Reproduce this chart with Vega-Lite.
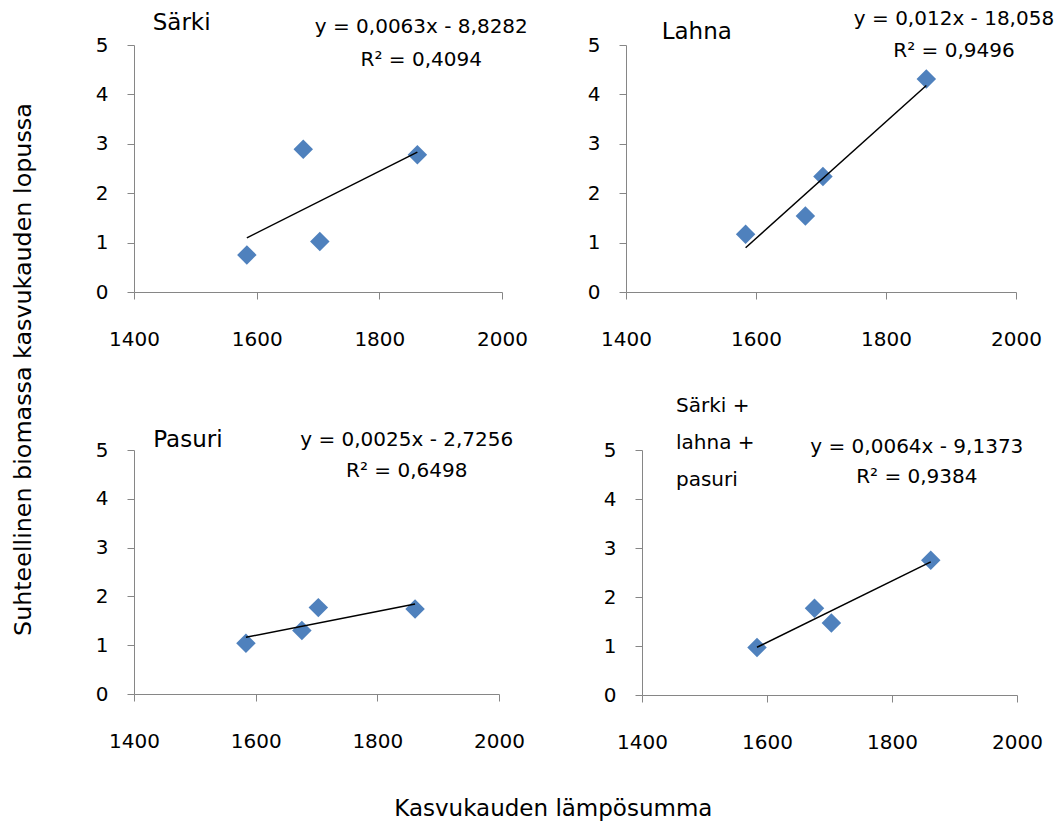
{
  "$schema": "https://vega.github.io/schema/vega-lite/v6.json",
  "background": "white",
  "padding": {"left": 12, "top": 9, "right": 0, "bottom": 0},
  "datasets": {
    "kalat": [
      {"laji": "Särki", "lampo": 1584, "biomassa": 0.75},
      {"laji": "Särki", "lampo": 1676, "biomassa": 2.89},
      {"laji": "Särki", "lampo": 1703, "biomassa": 1.02},
      {"laji": "Särki", "lampo": 1862, "biomassa": 2.78},
      {"laji": "Lahna", "lampo": 1584, "biomassa": 1.17},
      {"laji": "Lahna", "lampo": 1676, "biomassa": 1.54},
      {"laji": "Lahna", "lampo": 1703, "biomassa": 2.34},
      {"laji": "Lahna", "lampo": 1862, "biomassa": 4.31},
      {"laji": "Pasuri", "lampo": 1584, "biomassa": 1.04},
      {"laji": "Pasuri", "lampo": 1676, "biomassa": 1.30},
      {"laji": "Pasuri", "lampo": 1703, "biomassa": 1.77},
      {"laji": "Pasuri", "lampo": 1862, "biomassa": 1.74},
      {"laji": "Kaikki", "lampo": 1584, "biomassa": 0.97},
      {"laji": "Kaikki", "lampo": 1676, "biomassa": 1.77},
      {"laji": "Kaikki", "lampo": 1703, "biomassa": 1.47},
      {"laji": "Kaikki", "lampo": 1862, "biomassa": 2.75}
    ]
  },
  "title": {"text": "Kasvukauden lämpösumma", "orient": "bottom", "anchor": "middle", "fontSize": 23, "fontWeight": "normal", "font": "DejaVu Sans", "color": "black", "offset": 46, "dx": 20},
  "vconcat": [
    {
      "title": {"text": "Suhteellinen biomassa kasvukauden lopussa", "orient": "left", "anchor": "middle", "fontSize": 23.8, "fontWeight": "normal", "font": "DejaVu Sans", "color": "black", "offset": 59, "dx": 11},
      "spacing": 46,
      "vconcat": [
        {
          "spacing": 59,
          "hconcat": [
            {
              "width": 368, "height": 247,
              "data": {"name": "kalat"},
              "transform": [{"filter": "datum.laji === 'Särki'"}],
              "layer": [
                {"mark": {"type": "point", "shape": "diamond", "filled": true, "size": 380, "color": "#4F81BD", "opacity": 1},
                 "encoding": {
                   "x": {"field": "lampo", "type": "quantitative", "scale": {"domain": [1400, 2000], "nice": false, "zero": false}, "axis": {"values": [1400, 1600, 1800, 2000], "format": "d", "title": null}},
                   "y": {"field": "biomassa", "type": "quantitative", "scale": {"domain": [0, 5], "nice": false}, "axis": {"values": [0, 1, 2, 3, 4, 5], "title": null}}
                 }},
                {"transform": [{"regression": "biomassa", "on": "lampo"}],
                 "mark": {"type": "line", "color": "black", "strokeWidth": 1.5},
                 "encoding": {"x": {"field": "lampo", "type": "quantitative"}, "y": {"field": "biomassa", "type": "quantitative"}}},
                {"data": {"values": [{}]},
                 "mark": {"type": "text", "text": "Särki", "align": "left", "baseline": "alphabetic", "fontSize": 23},
                 "encoding": {"x": {"datum": 1430.5, "type": "quantitative"}, "y": {"datum": 5.31, "type": "quantitative"}}},
                {"data": {"values": [{}]},
                 "mark": {"type": "text", "text": ["y = 0,0063x - 8,8282", "R² = 0,4094"], "align": "center", "baseline": "alphabetic", "fontSize": 20, "lineHeight": 32.4},
                 "encoding": {"x": {"datum": 1868.4, "type": "quantitative"}, "y": {"datum": 5.24, "type": "quantitative"}}}
              ]
            },
            {
              "width": 390, "height": 247,
              "data": {"name": "kalat"},
              "transform": [{"filter": "datum.laji === 'Lahna'"}],
              "layer": [
                {"mark": {"type": "point", "shape": "diamond", "filled": true, "size": 380, "color": "#4F81BD", "opacity": 1},
                 "encoding": {
                   "x": {"field": "lampo", "type": "quantitative", "scale": {"domain": [1400, 2000], "nice": false, "zero": false}, "axis": {"values": [1400, 1600, 1800, 2000], "format": "d", "title": null}},
                   "y": {"field": "biomassa", "type": "quantitative", "scale": {"domain": [0, 5], "nice": false}, "axis": {"values": [0, 1, 2, 3, 4, 5], "title": null}}
                 }},
                {"transform": [{"regression": "biomassa", "on": "lampo"}],
                 "mark": {"type": "line", "color": "black", "strokeWidth": 1.5},
                 "encoding": {"x": {"field": "lampo", "type": "quantitative"}, "y": {"field": "biomassa", "type": "quantitative"}}},
                {"data": {"values": [{}]},
                 "mark": {"type": "text", "text": "Lahna", "align": "left", "baseline": "alphabetic", "fontSize": 23},
                 "encoding": {"x": {"datum": 1454.9, "type": "quantitative"}, "y": {"datum": 5.13, "type": "quantitative"}}},
                {"data": {"values": [{}]},
                 "mark": {"type": "text", "text": ["y = 0,012x - 18,058", "R² = 0,9496"], "align": "center", "baseline": "alphabetic", "fontSize": 20, "lineHeight": 31.6},
                 "encoding": {"x": {"datum": 1904.6, "type": "quantitative"}, "y": {"datum": 5.40, "type": "quantitative"}}}
              ]
            }
          ]
        },
        {
          "spacing": 78,
          "hconcat": [
            {
              "width": 365, "height": 244,
              "data": {"name": "kalat"},
              "transform": [{"filter": "datum.laji === 'Pasuri'"}],
              "layer": [
                {"mark": {"type": "point", "shape": "diamond", "filled": true, "size": 380, "color": "#4F81BD", "opacity": 1},
                 "encoding": {
                   "x": {"field": "lampo", "type": "quantitative", "scale": {"domain": [1400, 2000], "nice": false, "zero": false}, "axis": {"values": [1400, 1600, 1800, 2000], "format": "d", "title": null}},
                   "y": {"field": "biomassa", "type": "quantitative", "scale": {"domain": [0, 5], "nice": false}, "axis": {"values": [0, 1, 2, 3, 4, 5], "title": null}}
                 }},
                {"transform": [{"regression": "biomassa", "on": "lampo"}],
                 "mark": {"type": "line", "color": "black", "strokeWidth": 1.5},
                 "encoding": {"x": {"field": "lampo", "type": "quantitative"}, "y": {"field": "biomassa", "type": "quantitative"}}},
                {"data": {"values": [{}]},
                 "mark": {"type": "text", "text": "Pasuri", "align": "left", "baseline": "alphabetic", "fontSize": 23},
                 "encoding": {"x": {"datum": 1431.7, "type": "quantitative"}, "y": {"datum": 5.068, "type": "quantitative"}}},
                {"data": {"values": [{}]},
                 "mark": {"type": "text", "text": ["y = 0,0025x - 2,7256", "R² = 0,6498"], "align": "center", "baseline": "alphabetic", "fontSize": 20, "lineHeight": 31.6},
                 "encoding": {"x": {"datum": 1848.3, "type": "quantitative"}, "y": {"datum": 5.088, "type": "quantitative"}}}
              ]
            },
            {
              "width": 375, "height": 245,
              "data": {"name": "kalat"},
              "transform": [{"filter": "datum.laji === 'Kaikki'"}],
              "layer": [
                {"mark": {"type": "point", "shape": "diamond", "filled": true, "size": 380, "color": "#4F81BD", "opacity": 1},
                 "encoding": {
                   "x": {"field": "lampo", "type": "quantitative", "scale": {"domain": [1400, 2000], "nice": false, "zero": false}, "axis": {"values": [1400, 1600, 1800, 2000], "format": "d", "title": null}},
                   "y": {"field": "biomassa", "type": "quantitative", "scale": {"domain": [0, 5], "nice": false}, "axis": {"values": [0, 1, 2, 3, 4, 5], "title": null}}
                 }},
                {"transform": [{"regression": "biomassa", "on": "lampo"}],
                 "mark": {"type": "line", "color": "black", "strokeWidth": 1.5},
                 "encoding": {"x": {"field": "lampo", "type": "quantitative"}, "y": {"field": "biomassa", "type": "quantitative"}}},
                {"data": {"values": [{}]},
                 "mark": {"type": "text", "text": ["Särki +", "lahna +", "pasuri"], "align": "left", "baseline": "alphabetic", "fontSize": 20, "lineHeight": 37},
                 "encoding": {"x": {"datum": 1454.4, "type": "quantitative"}, "y": {"datum": 5.782, "type": "quantitative"}}},
                {"data": {"values": [{}]},
                 "mark": {"type": "text", "text": ["y = 0,0064x - 9,1373", "R² = 0,9384"], "align": "center", "baseline": "alphabetic", "fontSize": 20, "lineHeight": 30.6},
                 "encoding": {"x": {"datum": 1839.7, "type": "quantitative"}, "y": {"datum": 4.945, "type": "quantitative"}}}
              ]
            }
          ]
        }
      ]
    }
  ],
  "config": {
    "font": "DejaVu Sans",
    "view": {"stroke": null},
    "text": {"font": "DejaVu Sans", "color": "black"},
    "axis": {
      "grid": false,
      "domainColor": "#868686",
      "tickColor": "#868686",
      "domainWidth": 1,
      "tickWidth": 1,
      "tickSize": 7,
      "labelFont": "DejaVu Sans",
      "labelFontSize": 20,
      "labelColor": "black",
      "labelFlush": false,
      "labelOverlap": false
    },
    "axisX": {"labelPadding": 30},
    "axisY": {"labelPadding": 19}
  }
}
